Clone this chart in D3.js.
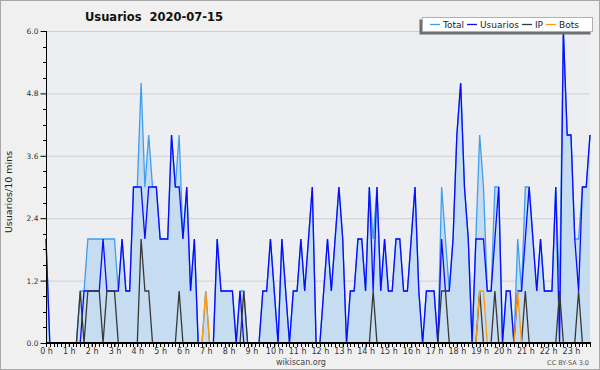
<!DOCTYPE html>
<html><head><meta charset="utf-8">
<script src="https://cdn.jsdelivr.net/npm/d3@7"></script>
<style>html,body{margin:0;padding:0;background:#f0f0f0;}svg{display:block;}</style>
</head><body>
<svg id="c" width="600" height="370"></svg>
<script>
const title = "Usuarios  2020-07-15";
const yLabel = "Usuarios/10 mins";
const seriesNames = ["Total", "Usuarios", "IP", "Bots"];
const hourLabels = d3.range(24).map(h => h + " h");
const yTicks = [0, 1.2, 2.4, 3.6, 4.8, 6.0];

const total = [2,0,0,0,0,0,0,0,0,1,1,2,2,2,2,2,2,2,2,1,2,1,1,3,3,5,3,4,3,3,2,2,2,4,3,4,2,3,1,2,
0,0,1,0,0,2,1,1,1,1,0,1,1,0,0,0,0,1,1,2,1,0,2,1,0,1,1,2,1,2,3,0,0,1,2,1,2,3,2,0,
1,1,2,2,1,3,2,3,1,2,1,1,2,2,1,1,2,3,1,0,1,1,1,0,3,2,1,2,4,5,3,2,0,2,4,3,1,1,3,3,
0,1,1,0,2,1,3,3,2,1,2,1,1,1,3,1,6,4,4,2,2,3,3,4];
const usuarios = [2,0,0,0,0,0,0,0,0,0,1,1,1,1,1,2,1,1,1,1,2,1,1,3,3,3,2,3,3,3,2,2,2,4,3,3,2,3,1,2,
0,0,0,0,0,2,1,1,1,1,0,1,0,0,0,0,0,1,1,2,1,0,2,1,0,1,1,2,1,2,3,0,0,1,2,1,2,3,2,0,
1,1,2,2,1,3,1,3,1,2,1,1,2,2,1,1,2,3,1,0,1,1,1,0,2,1,1,2,4,5,3,2,0,2,2,2,1,1,2,3,
0,1,1,0,1,1,2,3,2,1,2,1,1,1,3,0,6,4,4,2,1,3,3,4];
const ip = [0,0,0,0,0,0,0,0,0,1,0,1,1,1,1,0,1,1,1,0,0,0,0,0,0,2,1,1,0,0,0,0,0,0,0,1,0,0,0,0,
0,0,0,0,0,0,0,0,0,0,0,0,1,0,0,0,0,0,0,0,0,0,0,0,0,0,0,0,0,0,0,0,0,0,0,0,0,0,0,0,
0,0,0,0,0,0,1,0,0,0,0,0,0,0,0,0,0,0,0,0,0,0,0,0,1,1,0,0,0,0,0,0,0,0,1,0,0,0,1,0,
0,0,0,0,0,0,1,0,0,0,0,0,0,0,0,1,0,0,0,0,1,0,0,0];
const bots = [0,0,0,0,0,0,0,0,0,0,0,0,0,0,0,0,0,0,0,0,0,0,0,0,0,0,0,0,0,0,0,0,0,0,0,0,0,0,0,0,
0,0,1,0,0,0,0,0,0,0,0,0,0,0,0,0,0,0,0,0,0,0,0,0,0,0,0,0,0,0,0,0,0,0,0,0,0,0,0,0,
0,0,0,0,0,0,0,0,0,0,0,0,0,0,0,0,0,0,0,0,0,0,0,0,0,0,0,0,0,0,0,0,0,0,1,1,0,0,0,0,
0,0,0,0,1,0,0,0,0,0,0,0,0,0,0,0,0,0,0,0,0,0,0,0];

const colors = {Total:"#3f9ef0", Usuarios:"#0a0aff", IP:"#383838", Bots:"#ff9a0a"};
const svg = d3.select("#c");
const W = 600, H = 370;
const m = {left:46, right:590, top:31, bottom:343};

svg.append("rect").attr("x",0.5).attr("y",0.5).attr("width",W-1).attr("height",H-1)
  .attr("fill","#f0f0f0").attr("stroke","#a8a8a8");
svg.append("rect").attr("x",m.left).attr("y",m.top).attr("width",m.right-m.left).attr("height",m.bottom-m.top)
  .attr("fill","#eceef1");

const x = d3.scaleLinear().domain([0, 143/6]).range([m.left, m.right]);
const y = d3.scaleLinear().domain([0, 6]).range([m.bottom, m.top]);
const xi = (d,i) => x(i/6);

// grid
svg.append("g").selectAll("line").data(yTicks.filter(v=>v>0)).join("line")
  .attr("x1",m.left).attr("x2",m.right).attr("y1",d=>y(d)+0.5).attr("y2",d=>y(d)+0.5)
  .attr("stroke","#cfcfcf").attr("stroke-width",1);

// area
svg.append("path").datum(total)
  .attr("d", d3.area().x(xi).y0(y(0)).y1(d=>y(d)))
  .attr("fill","#c6ddf1");

const line = d3.line().x(xi).y(d=>y(d));
[[total,"Total"],[usuarios,"Usuarios"],[ip,"IP"],[bots,"Bots"]].forEach(([arr,name])=>{
  svg.append("path").datum(arr).attr("d",line).attr("fill","none")
    .attr("stroke",colors[name]).attr("stroke-width",1.3).attr("stroke-linejoin","miter");
});

// y axis
const yAxis = d3.axisLeft(y).tickValues(yTicks).tickFormat(d3.format(".1f")).tickSize(6).tickPadding(2);
const gy = svg.append("g").attr("transform",`translate(${m.left+0.5},0)`).call(yAxis);
gy.select(".domain").attr("stroke","#000").attr("d",`M0,${m.top}V${m.bottom}`);
gy.selectAll("text").attr("font-family","DejaVu Sans").attr("font-size",7.5).attr("fill","#333");
const minorY = d3.range(0, 6.01, 0.3).filter(v => !yTicks.some(t=>Math.abs(t-v)<1e-6));
svg.append("g").selectAll("line").data(minorY).join("line")
  .attr("x1",m.left-3).attr("x2",m.left).attr("y1",d=>Math.round(y(d))+0.5).attr("y2",d=>Math.round(y(d))+0.5)
  .attr("stroke","#000");

// x axis
const xAxis = d3.axisBottom(x).tickValues(d3.range(24)).tickFormat((d,i)=>hourLabels[i]).tickSize(4).tickPadding(1);
const gx = svg.append("g").attr("transform",`translate(0,${m.bottom})`).call(xAxis);
gx.select(".domain").attr("stroke","#000").attr("stroke-width",2).attr("d",`M${m.left},0H${m.right+1}`);
gx.selectAll("text").attr("font-family","DejaVu Sans").attr("font-size",8).attr("fill","#333");
svg.append("g").selectAll("line").data(d3.range(144)).join("line")
  .attr("x1",d=>Math.round(x(d/6))+0.5).attr("x2",d=>Math.round(x(d/6))+0.5)
  .attr("y1",m.bottom).attr("y2",m.bottom+4).attr("stroke","#000");

// title
svg.append("text").attr("x",85).attr("y",21).attr("font-family","DejaVu Sans").attr("font-weight","bold")
  .attr("font-size",11.5).attr("fill","#111").attr("xml:space","preserve").style("white-space","pre").text(title);

// y label
svg.append("text").attr("transform",`translate(12,192) rotate(-90)`).attr("text-anchor","middle")
  .attr("font-family","DejaVu Sans").attr("font-size",9.5).attr("fill","#222").text(yLabel);

// footer
svg.append("text").attr("x",301).attr("y",365).attr("text-anchor","middle")
  .attr("font-family","DejaVu Sans").attr("font-size",8).attr("fill","#444").text("wikiscan.org");
svg.append("text").attr("x",589).attr("y",365).attr("text-anchor","end")
  .attr("font-family","DejaVu Sans").attr("font-size",6.5).attr("fill","#555").text("CC BY-SA 3.0");

// legend
const lg = svg.append("g");
lg.append("rect").attr("x",419.5).attr("y",19.5).attr("width",171).attr("height",15).attr("fill","#6e6e6e");
lg.append("rect").attr("x",422.5).attr("y",17.5).attr("width",170).attr("height",14).attr("fill","#fff").attr("stroke","#b0b0b0");
let lx = 430;
seriesNames.forEach(name=>{
  lg.append("line").attr("x1",lx).attr("x2",lx+10).attr("y1",24.5).attr("y2",24.5).attr("stroke",colors[name]).attr("stroke-width",1.3);
  const t = lg.append("text").attr("x",lx+13).attr("y",28).attr("font-family","DejaVu Sans").attr("font-size",9)
    .attr("fill","#222").text(name);
  lx += 13 + t.node().getComputedTextLength() + 3;
});
</script>
</body></html>
